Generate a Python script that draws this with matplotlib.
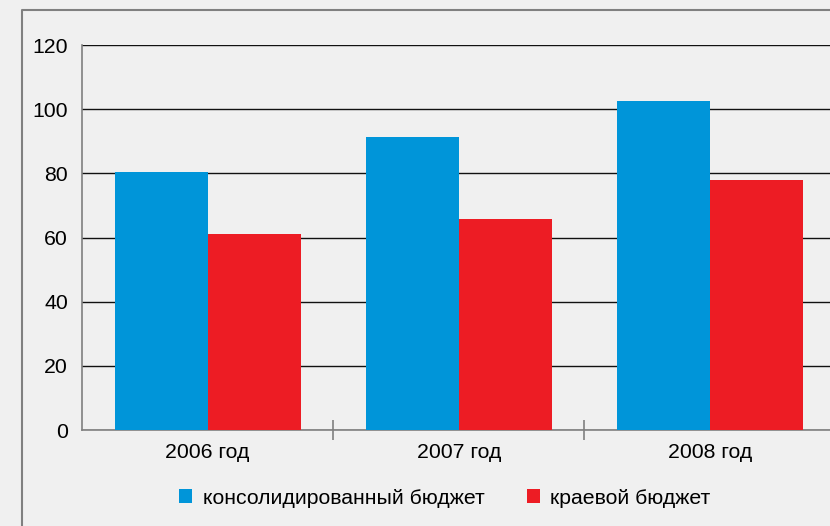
import matplotlib.pyplot as plt
import numpy as np
from matplotlib.lines import Line2D

plt.rcParams["font.family"] = ["Liberation Sans", "DejaVu Sans"]

# data
years = ["2006 год", "2007 год", "2008 год"]
consolidated = [80.4, 91.3, 102.6]
regional = [61.1, 65.8, 77.9]
yticks = [0, 20, 40, 60, 80, 100, 120]

bg = "#f0f0f0"
blue = "#0095d9"
red = "#ed1c24"

fig = plt.figure(figsize=(8.3, 5.26), dpi=100, facecolor=bg)
ax = fig.add_axes([0.0988, 0.1825, 0.9078, 0.7319], facecolor=bg)

x = np.arange(len(years))
w = 0.37
ax.bar(x - w / 2, consolidated, w, color=blue, label="консолидированный бюджет", zorder=3)
ax.bar(x + w / 2, regional, w, color=red, label="краевой бюджет", zorder=3)

ax.set_xlim(-0.5, len(years) - 0.5)
ax.set_ylim(0, 120)
ax.set_yticks(yticks)
ax.set_yticklabels([str(v) for v in yticks], fontsize=15.3)
ax.set_xticks(x)
ax.set_xticklabels(years, fontsize=15.3)
ax.set_xticks(x[:-1] + 0.5, minor=True)

ax.tick_params(axis="y", length=0, pad=10)
ax.tick_params(axis="x", which="major", length=0, pad=9)
ax.tick_params(axis="x", which="minor", length=14, width=1.2,
               direction="inout", color="#808080")

ax.yaxis.grid(True, color="#111111", linewidth=1.0, zorder=1)
ax.set_axisbelow(True)
for s in ["top", "right"]:
    ax.spines[s].set_visible(False)
for s in ["left", "bottom"]:
    ax.spines[s].set_color("#808080")
    ax.spines[s].set_linewidth(1.2)

ax.legend(loc="center", bbox_to_anchor=(0.536, 1 - 498 / 526),
          bbox_transform=fig.transFigure, ncol=2, frameon=False,
          fontsize=15.3, handlelength=0.6, handleheight=0.6,
          handletextpad=0.5, columnspacing=2.0)

# outer frame
fig.add_artist(Line2D([22 / 830, 22 / 830, 1.0], [0.0, 1 - 10 / 526, 1 - 10 / 526],
                      transform=fig.transFigure, color="#808080", linewidth=1.5))

fig.savefig("out.png", dpi=100, facecolor=bg)
